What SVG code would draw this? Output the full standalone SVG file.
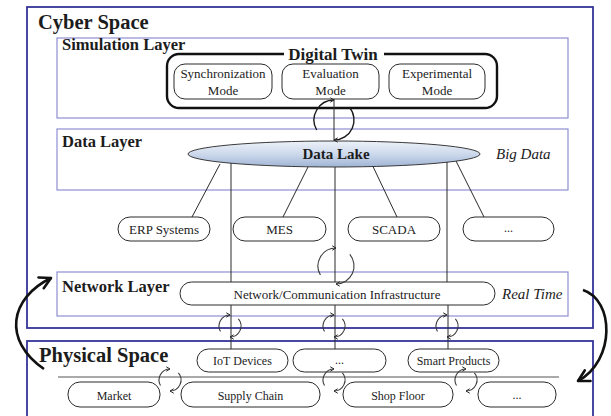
<svg xmlns="http://www.w3.org/2000/svg" width="611" height="416" viewBox="0 0 611 416">
  <defs>
    <style>
      .space { fill: none; stroke: #35359a; stroke-width: 1.8; }
      .layer { fill: none; stroke: #8e8ed2; stroke-width: 1.2; }
      .box { fill: #ffffff; stroke: #2a2a2a; stroke-width: 1; }
      .twin { fill: none; stroke: #111111; stroke-width: 2.4; }
      .link { fill: none; stroke: #2a2a2a; stroke-width: 1; }
      .cyc { fill: none; stroke: #3a3a3a; stroke-width: 1.1; marker-end: url(#tip); }
      .cyc.main { stroke: #1a1a1a; stroke-width: 1.4; }
      .big { fill: none; stroke: #111111; stroke-width: 2.6; marker-end: url(#bigtip); }
      text { font-family: "Liberation Serif", "Times New Roman", serif; fill: #1c1c1c; }
      .title { font-weight: bold; font-size: 20.5px; }
      .lname { font-weight: bold; font-size: 16.5px; }
      .note { font-style: italic; font-size: 15px; }
      .lbl { font-size: 13px; text-anchor: middle; }
      .sm { font-size: 12px; text-anchor: middle; }
    </style>
    <linearGradient id="lake" x1="0" y1="0" x2="0" y2="1">
      <stop offset="0" stop-color="#eef2f9"/>
      <stop offset="0.55" stop-color="#c9d6ea"/>
      <stop offset="1" stop-color="#9fb4d4"/>
    </linearGradient>
    <marker id="tip" viewBox="0 0 8 8" refX="6" refY="4" markerWidth="6" markerHeight="6" markerUnits="userSpaceOnUse" orient="auto">
      <path d="M1,1 L6,4 L1,7" fill="none" stroke="#2a2a2a" stroke-width="1.3"/>
    </marker>
    <marker id="bigtip" viewBox="0 0 16 16" refX="13" refY="8" markerWidth="16" markerHeight="16" markerUnits="userSpaceOnUse" orient="auto">
      <path d="M2,2 L13,8 L2,14" fill="none" stroke="#111111" stroke-width="2.6" stroke-linecap="round" stroke-linejoin="round"/>
    </marker>
  </defs>

  <rect width="611" height="416" fill="#ffffff"/>

  <!-- spaces -->
  <g id="cyber-space">
    <rect class="space" x="27" y="7" width="566" height="321"/>
    <text class="title" x="38" y="29">Cyber Space</text>
  </g>
  <g id="physical-space">
    <rect class="space" x="27" y="341" width="566" height="90"/>
    <text class="title" x="39" y="362">Physical Space</text>
    <line x1="58" y1="377" x2="559" y2="377" stroke="#555555" stroke-width="1"/>
  </g>

  <!-- layers -->
  <g id="simulation-layer">
    <rect class="layer" x="57" y="38" width="511" height="80"/>
  </g>
  <g id="data-layer">
    <rect class="layer" x="57" y="129" width="511" height="61"/>
    <text class="lname" x="62" y="147">Data Layer</text>
    <text class="note" x="496" y="159">Big Data</text>
  </g>
  <g id="network-layer">
    <rect class="layer" x="57" y="272" width="511" height="44"/>
    <text class="lname" x="62" y="292">Network Layer</text>
    <text class="note" x="502" y="299">Real Time</text>
  </g>

  <!-- digital twin -->
  <g id="digital-twin">
    <rect class="twin" x="167" y="54" width="330" height="54" rx="12"/>
    <rect x="284" y="45" width="100" height="17" fill="#ffffff"/>
    <text x="333" y="60" font-weight="bold" font-size="17" text-anchor="middle">Digital Twin</text>
  </g>
  <g id="simulation-label">
    <text class="lname" x="62" y="50">Simulation Layer</text>
  </g>
  <g id="sync-mode">
    <rect class="box" x="174" y="64" width="98" height="35" rx="11"/>
    <text class="lbl" x="223" y="77.5">Synchronization</text>
    <text class="lbl" x="223" y="94.5">Mode</text>
  </g>
  <g id="eval-mode">
    <rect class="box" x="282" y="64" width="97" height="35" rx="11"/>
    <text class="lbl" x="330.5" y="77.5">Evaluation</text>
    <text class="lbl" x="330.5" y="94.5">Mode</text>
  </g>
  <g id="exp-mode">
    <rect class="box" x="389" y="64" width="96" height="35" rx="11"/>
    <text class="lbl" x="437" y="77.5">Experimental</text>
    <text class="lbl" x="437" y="94.5">Mode</text>
  </g>

  <!-- data lake -->
  <g id="data-lake">
    <ellipse cx="334" cy="154" rx="146" ry="13" fill="url(#lake)" stroke="#3a3a3a" stroke-width="1"/>
    <text x="336" y="158.5" font-weight="bold" font-size="15" text-anchor="middle">Data Lake</text>
  </g>

  <!-- source systems -->
  <g id="erp">
    <rect class="box" x="118" y="217" width="92" height="24" rx="12"/>
    <text class="lbl" x="164" y="233.5" font-size="13.5">ERP Systems</text>
  </g>
  <g id="mes">
    <rect class="box" x="233" y="217" width="93" height="24" rx="12"/>
    <text class="lbl" x="279.5" y="233.5" font-size="13.5">MES</text>
  </g>
  <g id="scada">
    <rect class="box" x="348" y="217" width="92" height="24" rx="12"/>
    <text class="lbl" x="394" y="233.5" font-size="13.5">SCADA</text>
  </g>
  <g id="more-systems">
    <rect class="box" x="463" y="217" width="91" height="24" rx="12"/>
    <text class="sm" x="508.5" y="232">...</text>
  </g>

  <!-- network -->
  <g id="network-infra">
    <rect class="box" x="180" y="282" width="315" height="23" rx="11.5"/>
    <text class="lbl" x="337" y="298.5" font-size="14.2">Network/Communication Infrastructure</text>
  </g>

  <!-- physical things -->
  <g id="iot">
    <rect class="box" x="197" y="349" width="91" height="23" rx="11.5"/>
    <text class="sm" x="242.5" y="364.5">IoT Devices</text>
  </g>
  <g id="more-things">
    <rect class="box" x="293" y="349" width="93" height="23" rx="11.5"/>
    <text class="sm" x="339.5" y="363.5">...</text>
  </g>
  <g id="smart-products">
    <rect class="box" x="408" y="349" width="91" height="23" rx="11.5"/>
    <text class="sm" x="453.5" y="364.5">Smart Products</text>
  </g>
  <g id="market">
    <rect class="box" x="68" y="382" width="92" height="25" rx="12"/>
    <text class="sm" x="114" y="399.5">Market</text>
  </g>
  <g id="supply-chain">
    <rect class="box" x="181" y="382" width="139" height="25" rx="12"/>
    <text class="sm" x="250.5" y="399.5">Supply Chain</text>
  </g>
  <g id="shop-floor">
    <rect class="box" x="343" y="382" width="110" height="25" rx="12"/>
    <text class="sm" x="398" y="399.5">Shop Floor</text>
  </g>
  <g id="more-sites">
    <rect class="box" x="478" y="382" width="78" height="25" rx="12"/>
    <text class="sm" x="517" y="398.5">...</text>
  </g>

  <!-- connectors -->
  <g id="connectors">
    <line class="link" x1="334" y1="99" x2="334" y2="141" stroke-width="1.3"/>
    <line class="link" x1="220" y1="164" x2="192" y2="217"/>
    <line class="link" x1="308" y1="167" x2="283" y2="217"/>
    <line class="link" x1="373" y1="166.5" x2="397" y2="217"/>
    <line class="link" x1="456" y1="161" x2="484" y2="217"/>
    <line class="link" x1="231" y1="163" x2="231" y2="282"/>
    <line class="link" x1="335" y1="167" x2="335" y2="282"/>
    <line class="link" x1="447" y1="162" x2="447" y2="282"/>
    <line class="link" x1="231" y1="305" x2="231" y2="349"/>
    <line class="link" x1="335" y1="305" x2="335" y2="349"/>
    <line class="link" x1="448" y1="305" x2="448" y2="349"/>

    <!-- sync cycles -->
    <path class="cyc main" d="M316.7,130 A20,20 0 0 1 334,100"/>
    <path class="cyc main" d="M349.3,107.1 A20,20 0 0 1 334,140"/>
    <path class="cyc" d="M320.4,275 A18,18 0 0 1 336,248"/>
    <path class="cyc" d="M349.8,254.4 A18,18 0 0 1 336,284"/>

    <path class="cyc" d="M220.5,331.5 A11,11 0 0 1 230,315"/>
    <path class="cyc" d="M238.4,318.9 A11,11 0 0 1 230,337"/>
    <path class="cyc" d="M324.5,331.5 A11,11 0 0 1 334,315"/>
    <path class="cyc" d="M342.4,318.9 A11,11 0 0 1 334,337"/>
    <path class="cyc" d="M437.5,331.5 A11,11 0 0 1 447,315"/>
    <path class="cyc" d="M455.4,318.9 A11,11 0 0 1 447,337"/>

    <path class="cyc" d="M160.5,385.5 A11,11 0 0 1 170,369"/>
    <path class="cyc" d="M178.4,372.9 A11,11 0 0 1 170,391"/>
    <path class="cyc" d="M324.5,385.5 A11,11 0 0 1 334,369"/>
    <path class="cyc" d="M342.4,372.9 A11,11 0 0 1 334,391"/>
    <path class="cyc" d="M456.5,385.5 A11,11 0 0 1 466,369"/>
    <path class="cyc" d="M474.4,372.9 A11,11 0 0 1 466,391"/>

    <!-- physical to cyber and back -->
    <path class="big" d="M44,369 C2,340 10,298 51,278"/>
    <path class="big" d="M583,290 C614,300 616,360 578,381"/>
  </g>
</svg>
